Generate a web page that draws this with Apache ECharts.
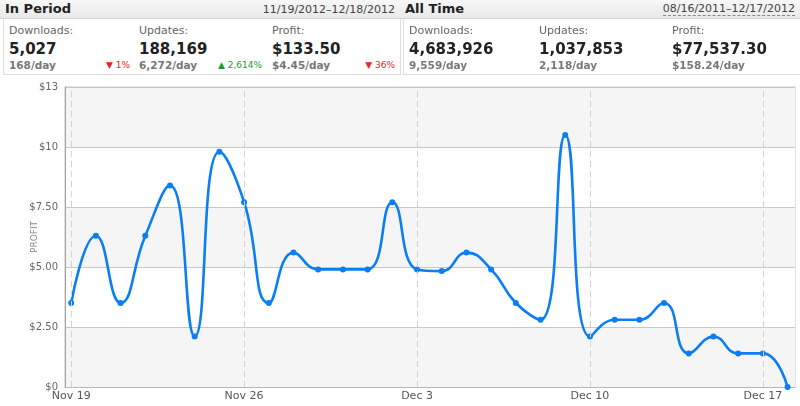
<!DOCTYPE html>
<html>
<head>
<meta charset="utf-8">
<script src="https://cdn.jsdelivr.net/npm/echarts@6/dist/echarts.min.js"></script>
<style>
  html, body { margin:0; padding:0; background:#fff; }
  #wrap { position:relative; width:800px; height:406px; overflow:hidden; font-family:"DejaVu Sans", Verdana, sans-serif; }
  #chart { position:absolute; left:0; top:0; width:800px; height:406px; }
  .bar { position:absolute; top:0; height:18px; background:linear-gradient(#f7f7f7,#e9e9e9); border-bottom:1px solid #d6d6d6; }
  .bar .t { position:absolute; left:5px; top:1px; font-size:13px; font-weight:bold; color:#222; }
  .bar .d { position:absolute; right:5px; top:3px; font-size:11px; color:#444; }
  .bar .d.u { border-bottom:1px dashed #888; line-height:12px; }
  .box { position:absolute; top:19px; height:55px; border-right:1px solid #ddd; border-bottom:1px solid #ddd; background:#fff; }
  .box .l { position:absolute; left:5px; top:5px; font-size:11px; color:#666; }
  .box .v { position:absolute; left:5px; top:21px; font-size:15px; font-weight:bold; color:#222; }
  .box .p { position:absolute; left:5px; top:40px; font-size:10.5px; font-weight:bold; color:#777; }
  .box .c { position:absolute; right:5px; top:41px; font-size:9px; }
  .dn { color:#e4262b; } .up { color:#1d9a2a; }
</style>
</head>
<body>
<div id="wrap">
  <div id="chart"></div>
  <div id="hdr"></div>
</div>
<script>
// ---- data ----
const days = ['Nov 19','Nov 20','Nov 21','Nov 22','Nov 23','Nov 24','Nov 25','Nov 26','Nov 27','Nov 28',
  'Nov 29','Nov 30','Dec 1','Dec 2','Dec 3','Dec 4','Dec 5','Dec 6','Dec 7','Dec 8',
  'Dec 9','Dec 10','Dec 11','Dec 12','Dec 13','Dec 14','Dec 15','Dec 16','Dec 17','Dec 18'];
const profit = [3.5, 6.3, 3.5, 6.3, 8.4, 2.1, 9.8, 7.7, 3.5, 5.6,
  4.9, 4.9, 4.9, 7.7, 4.9, 4.83, 5.6, 4.9, 3.5, 2.8,
  10.5, 2.1, 2.8, 2.8, 3.5, 1.4, 2.1, 1.4, 1.4, 0];
const tickDays = [0, 7, 14, 21, 28];

const periodTitle = 'In Period', periodRange = '11/19/2012\u201312/18/2012';
const allTitle = 'All Time', allRange = '08/16/2011\u201312/17/2012';
const statLabels = ['Downloads:', 'Updates:', 'Profit:'];
const periodValues = ['5,027', '188,169', '$133.50'];
const periodPerDay = ['168/day', '6,272/day', '$4.45/day'];
const periodChange = [['\u25BC 1%', 'dn'], ['\u25B2 2,614%', 'up'], ['\u25BC 36%', 'dn']];
const allValues = ['4,683,926', '1,037,853', '$77,537.30'];
const allPerDay = ['9,559/day', '2,118/day', '$158.24/day'];

// ---- header ----
const hdr = document.getElementById('hdr');
function half(x0, title, range, underline, vals, per, chg) {
  let h = `<div class="bar" style="left:${x0}px;width:400px"><span class="t">${title}</span><span class="d${underline?' u':''}">${range}</span></div>`;
  const bx = [x0 + 3, x0 + 134, x0 + 267];
  const bw = [131, 133, 133];
  for (let i = 0; i < 3; i++) {
    h += `<div class="box" style="left:${bx[i]}px;width:${bw[i]}px;${i===0?'border-left:1px solid #ddd;':''}">` +
      `<span class="l">${statLabels[i]}</span><span class="v">${vals[i]}</span><span class="p">${per[i]}</span>` +
      (chg ? `<span class="c ${chg[i][1]}">${chg[i][0]}</span>` : '') + `</div>`;
  }
  return h;
}
hdr.innerHTML = half(0, periodTitle, periodRange, false, periodValues, periodPerDay, periodChange) +
                half(400, allTitle, allRange, true, allValues, allPerDay, null);

// ---- chart ----
const chart = echarts.init(document.getElementById('chart'));
function yFmt(v) {
  if (v === 0) return '$0';
  if (v >= 10) return '$' + Math.round(v);
  return '$' + v.toFixed(2);
}
chart.setOption({
  animation: false,
  grid: { left: 65, right: 5, top: 87, bottom: 19, show: true, borderColor: '#c8c8c8', borderWidth: 1, backgroundColor: 'transparent' },
  xAxis: {
    type: 'value', min: -0.25, max: 29.3,
    axisLine: { show: true, onZero: false, lineStyle: { color: '#b0b8c4', width: 1 } },
    axisTick: { show: false },
    splitLine: { show: false },
    axisLabel: { customValues: tickDays, formatter: v => days[v] || '', color: '#555', fontSize: 11, margin: 4, fontFamily: 'DejaVu Sans' }
  },
  yAxis: {
    type: 'value', min: 0, max: 12.5, interval: 2.5,
    name: 'PROFIT', nameLocation: 'middle', nameGap: 26, nameMoveOverlap: false,
    nameTextStyle: { color: '#888', fontSize: 9, fontFamily: 'DejaVu Sans' },
    axisLine: { show: true, onZero: false, lineStyle: { color: '#a0a0a0' } },
    axisTick: { show: false },
    splitLine: { show: true, lineStyle: { color: '#c8c8c8' } },
    splitArea: { show: true, areaStyle: { color: ['#f5f5f5', '#ffffff'] } },
    axisLabel: { formatter: yFmt, color: '#666', fontSize: 10, margin: 7, fontFamily: 'DejaVu Sans' }
  },
  series: [
    {
      type: 'line', data: [], z: 1, silent: true,
      markLine: {
        silent: true, symbol: 'none', label: { show: false },
        lineStyle: { color: '#d2d2d2', type: [6, 4], width: 1 },
        data: tickDays.map(d => ({ xAxis: d }))
      }
    },
    {
      type: 'line', z: 3,
      data: profit.map((v, i) => [i, v]),
      smooth: 0.5,
      symbol: 'circle', symbolSize: 6,
      lineStyle: { color: '#0a7ef2', width: 2.6 },
      itemStyle: { color: '#0a7ef2' }
    }
  ]
});
</script>
</body>
</html>
